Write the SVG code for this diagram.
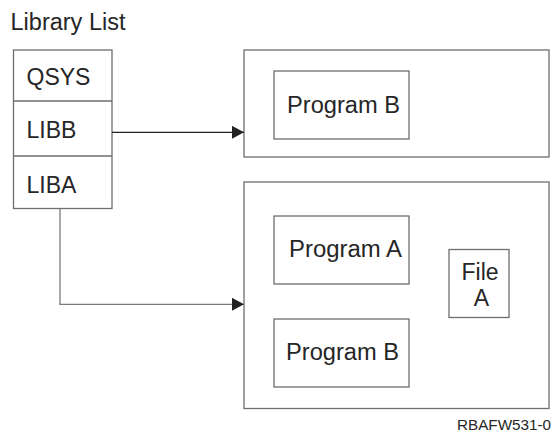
<svg xmlns="http://www.w3.org/2000/svg" width="552" height="432" viewBox="0 0 552 432">
<style>
text{font-family:"Liberation Sans",Arial,sans-serif;fill:#262626}
.t{font-size:23px}
.box{fill:#fff;stroke:#6e6e6e;stroke-width:1.3}
.conn{fill:none;stroke-width:1.3}
</style>
<defs>
<marker id="ah" markerUnits="userSpaceOnUse" markerWidth="13" markerHeight="14" refX="12" refY="6.5" orient="auto">
<path d="M0,0 L12,6.5 L0,13 Z" fill="#222"/>
</marker>
</defs>
<rect width="552" height="432" fill="#fff"/>
<text class="t" x="10.5" y="30" textLength="115" lengthAdjust="spacingAndGlyphs">Library List</text>
<g id="library-list">
<rect class="box" x="13.5" y="50" width="98.5" height="158.5"/>
<line class="box" x1="13.5" y1="101" x2="112" y2="101"/>
<line class="box" x1="13.5" y1="156" x2="112" y2="156"/>
<text class="t" x="26.5" y="85">QSYS</text>
<text class="t" x="26.5" y="138">LIBB</text>
<text class="t" x="26.5" y="192.5">LIBA</text>
</g>
<g id="libb-library">
<rect class="box" x="244" y="50" width="305" height="107"/>
<rect class="box" x="274" y="71" width="135" height="68"/>
<text class="t" x="287" y="113" textLength="113" lengthAdjust="spacingAndGlyphs">Program B</text>
</g>
<g id="liba-library">
<rect class="box" x="244" y="182" width="305" height="226.5"/>
<g id="program-a">
<rect class="box" x="274" y="216" width="135" height="68"/>
<text class="t" x="289" y="257" textLength="113" lengthAdjust="spacingAndGlyphs">Program A</text>
</g>
<g id="program-b">
<rect class="box" x="274" y="319" width="135" height="68"/>
<text class="t" x="286" y="359.5" textLength="113" lengthAdjust="spacingAndGlyphs">Program B</text>
</g>
<g id="file-a">
<rect class="box" x="449" y="249.5" width="60" height="68"/>
<text class="t" x="480" y="279.5" text-anchor="middle">File</text>
<text class="t" x="481.5" y="305.5" text-anchor="middle">A</text>
</g>
</g>
<g id="connectors">
<line class="conn" x1="112" y1="132.3" x2="244" y2="132.3" stroke="#222" marker-end="url(#ah)"/>
<polyline class="conn" points="60,208.5 60,304.3 244,304.3" stroke="#7a7a7a" marker-end="url(#ah)"/>
</g>
<text x="457" y="430" font-size="14" textLength="94" lengthAdjust="spacingAndGlyphs">RBAFW531-0</text>
</svg>
